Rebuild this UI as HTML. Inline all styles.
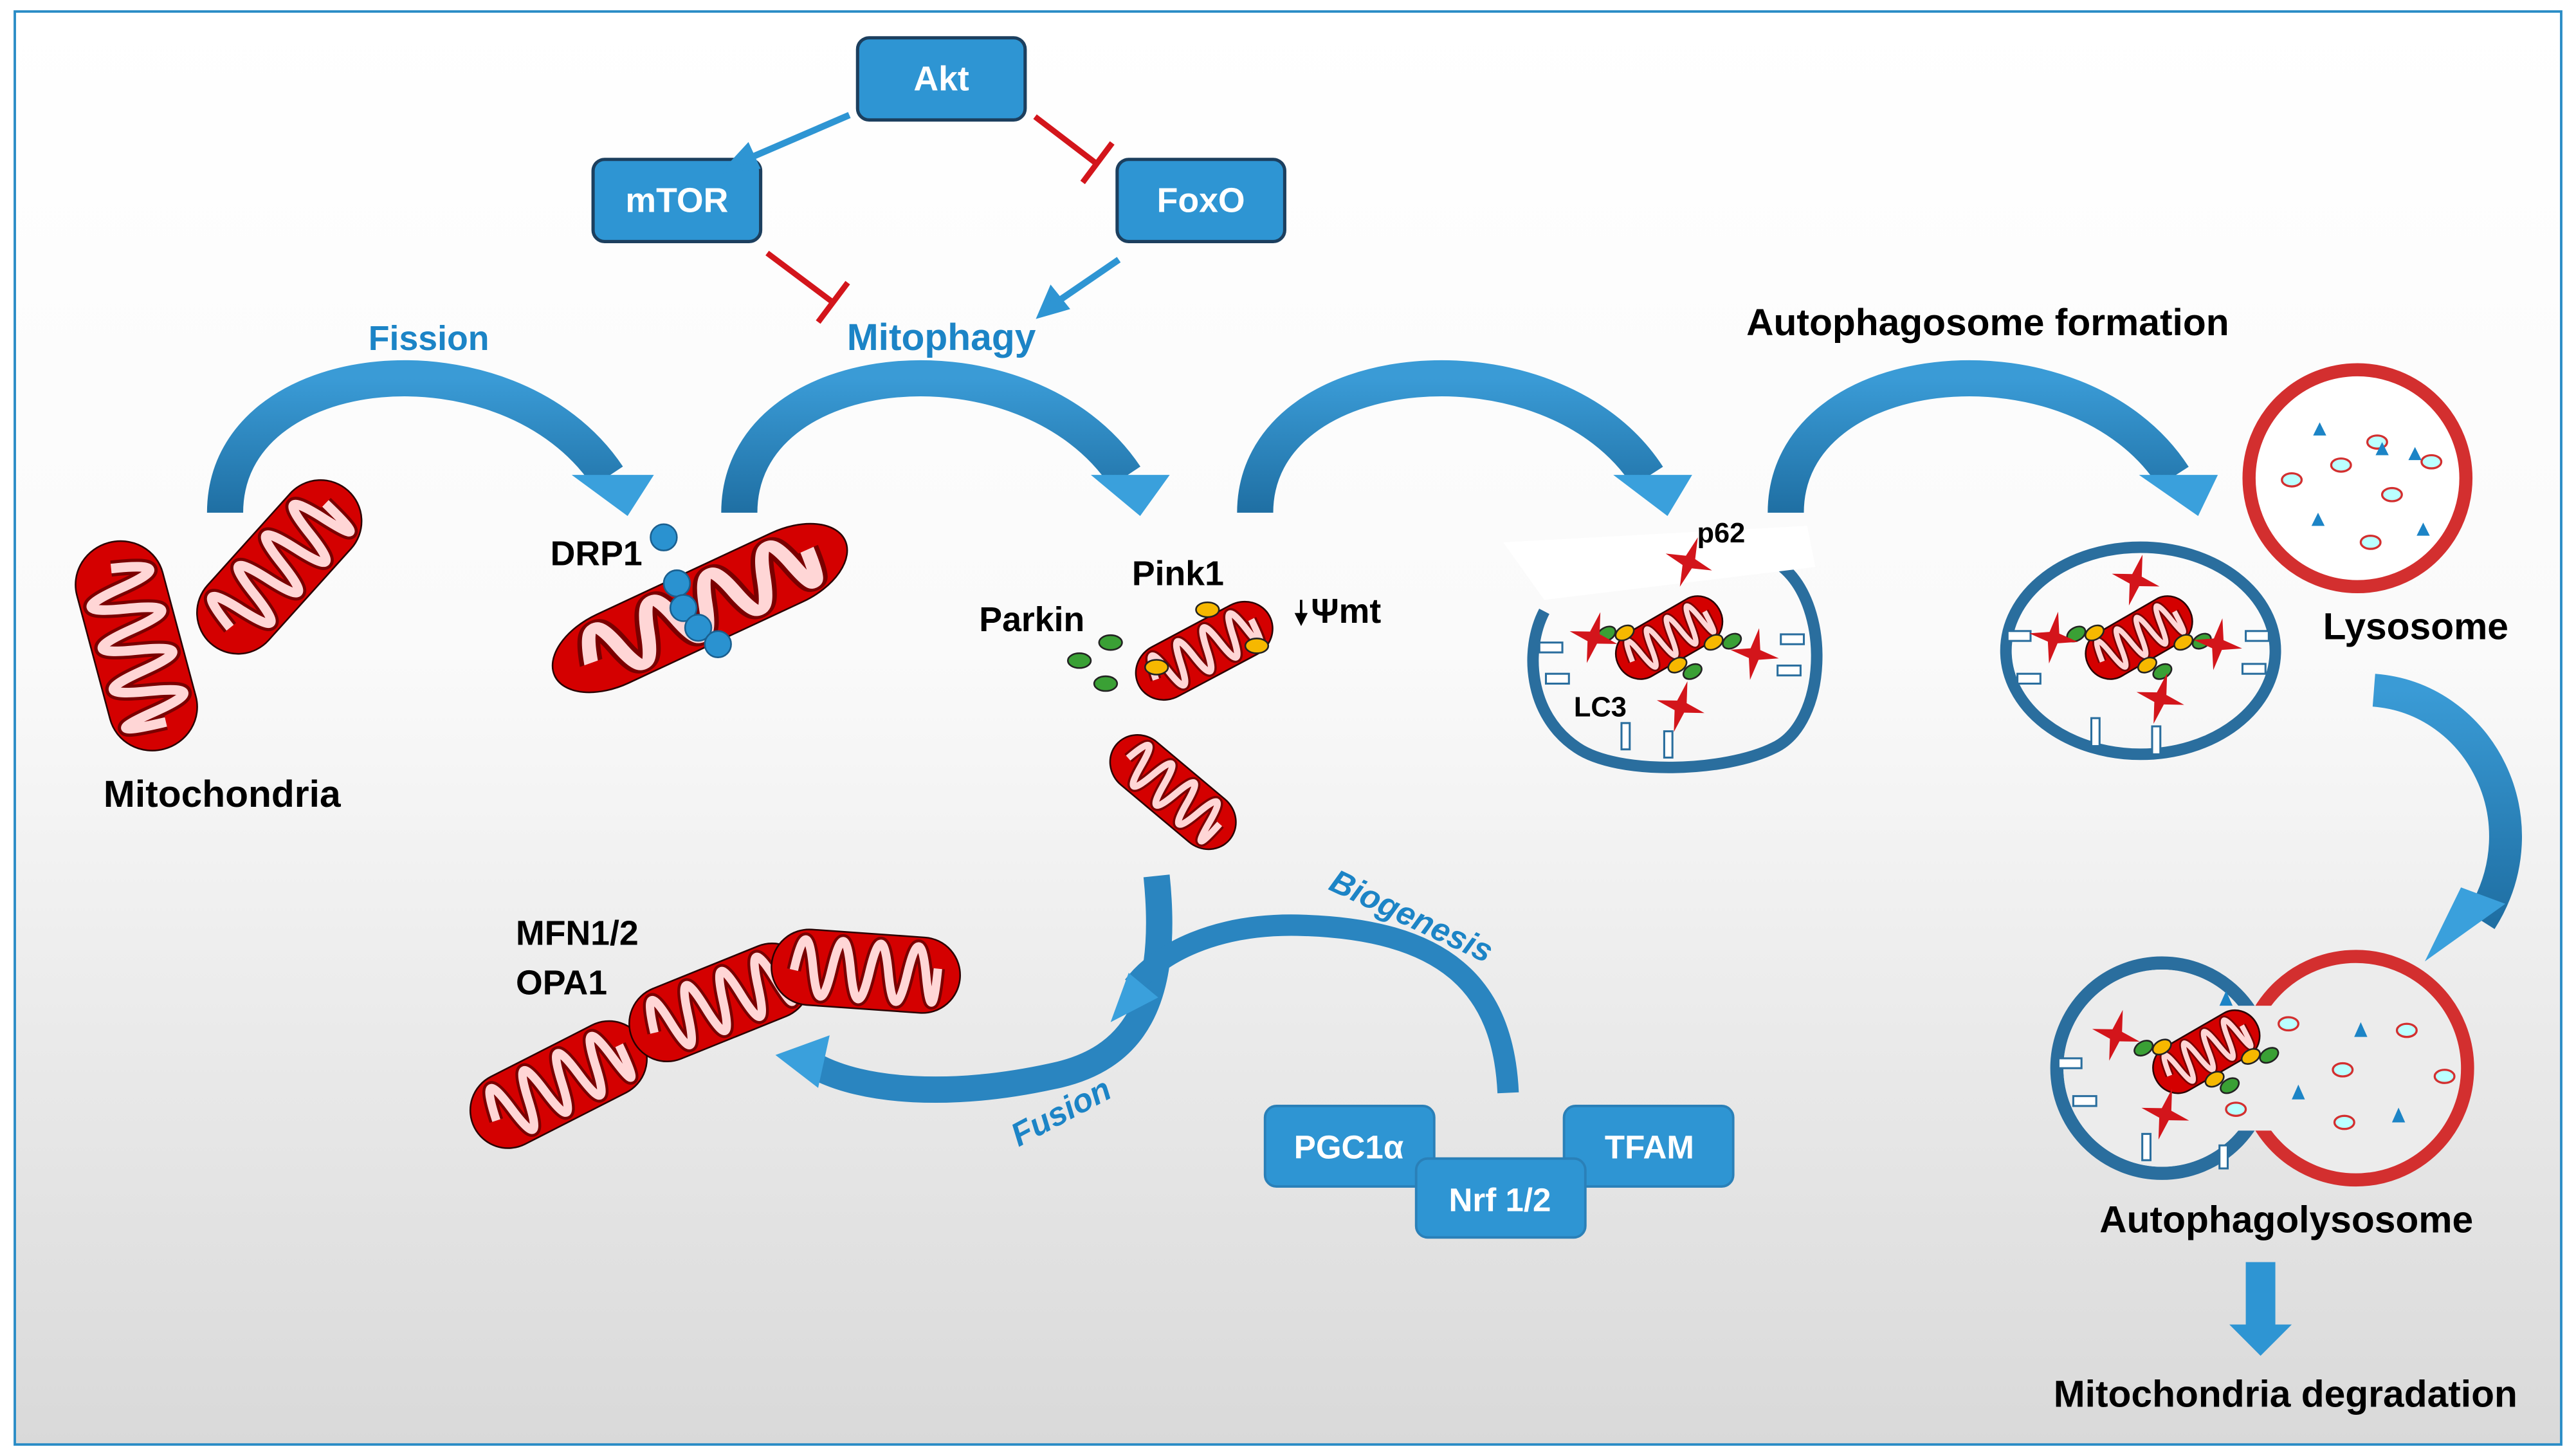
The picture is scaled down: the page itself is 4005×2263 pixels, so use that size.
<!DOCTYPE html>
<html><head><meta charset="utf-8"><style>
html,body{margin:0;padding:0;width:4005px;height:2263px;overflow:hidden;background:#fff}
svg{display:block}
text{font-family:"Liberation Sans",sans-serif;font-weight:bold}
</style></head><body>
<svg width="4005" height="2263" viewBox="0 0 1568 886" xmlns="http://www.w3.org/2000/svg">
<defs>
<linearGradient id="bg" x1="0" y1="0" x2="0" y2="1">
<stop offset="0" stop-color="#ffffff"/><stop offset="0.45" stop-color="#fafafa"/><stop offset="1" stop-color="#d9d9d9"/></linearGradient>
<linearGradient id="arc" x1="0" y1="0" x2="0" y2="1">
<stop offset="0" stop-color="#3a9bd6"/><stop offset="1" stop-color="#1f6fa3"/></linearGradient>
<g id="mito">
<rect x="-50" y="-20" width="100" height="40" rx="20" fill="#d40000" stroke="#2a0000" stroke-width="2.5" vector-effect="non-scaling-stroke"/>
<path d="M-38,2 Q-33,-30 -28,0 T-18,0 T-8,0 T2,0 T12,0 T22,0 T32,0 T38,-4" fill="none" stroke="#7a0000" stroke-width="7.5"/>
<path d="M-38,2 Q-33,-30 -28,0 T-18,0 T-8,0 T2,0 T12,0 T22,0 T32,0 T38,-4" fill="none" stroke="#ffd6d6" stroke-width="4.5"/>
</g>
<polygon id="star" points="0,-16 3,-3 15,0 3,3 0,16 -3,3 -15,0 -3,-3" fill="#d3151b"/>
<g id="ppm">
<use href="#mito" transform="scale(0.7,0.75)"/>
<ellipse cx="-22" cy="-16" rx="6" ry="4" fill="#f6b800" stroke="#222" stroke-width="1"/>
<ellipse cx="-32" cy="-21" rx="6" ry="4" fill="#3aa035" stroke="#222" stroke-width="1"/>
<ellipse cx="22" cy="16" rx="6" ry="4" fill="#f6b800" stroke="#222" stroke-width="1"/>
<ellipse cx="32" cy="21" rx="6" ry="4" fill="#3aa035" stroke="#222" stroke-width="1"/>
<ellipse cx="-4" cy="17" rx="6" ry="4" fill="#f6b800" stroke="#222" stroke-width="1"/>
<ellipse cx="2" cy="25" rx="6" ry="4" fill="#3aa035" stroke="#222" stroke-width="1"/>
</g>
</defs>
<rect x="0" y="0" width="1568" height="886" fill="#fff"/>
<rect x="9" y="7" width="1550" height="872" fill="url(#bg)" stroke="#2a8cc6" stroke-width="1.5"/>

<!-- Top signaling boxes -->
<g stroke="#1c3f5e" stroke-width="2" fill="#2e95d3">
<rect x="522" y="23" width="102" height="50" rx="7"/>
<rect x="361" y="97" width="102" height="50" rx="7"/>
<rect x="680" y="97" width="102" height="50" rx="7"/>
</g>
<g fill="#fff" font-size="21" text-anchor="middle">
<text x="573" y="55">Akt</text><text x="412" y="129">mTOR</text><text x="731" y="129">FoxO</text>
</g>
<g stroke="#2e95d3" stroke-width="4" fill="#2e95d3">
<line x1="517" y1="70" x2="452" y2="98"/>
<polygon points="443,103 455,90 460,101"/>
<line x1="681" y1="158" x2="643" y2="184"/>
<polygon points="634,191 640,177 648,187"/>
</g>
<g stroke="#d3151b" stroke-width="3.5" fill="none">
<line x1="630" y1="71" x2="668" y2="100"/><line x1="659" y1="111" x2="677" y2="87"/>
<line x1="467" y1="154" x2="507" y2="184"/><line x1="498" y1="196" x2="516" y2="172"/>
</g>

<g fill="#1c84c6" text-anchor="middle">
<text x="261" y="213" font-size="21">Fission</text><text x="573" y="213" font-size="23">Mitophagy</text>
</g>
<g fill="#000" font-size="23">
<text x="1063" y="204">Autophagosome formation</text>
<text x="63" y="491">Mitochondria</text>
<text x="335" y="344" font-size="21">DRP1</text>
<text x="689" y="356" font-size="21">Pink1</text>
<text x="596" y="384" font-size="21">Parkin</text>
<text x="798" y="379" font-size="21">Ψmt</text>
<text x="1414" y="389">Lysosome</text>
<text x="314" y="575" font-size="21">MFN1/2</text>
<text x="314" y="605" font-size="21">OPA1</text>
<text x="1278" y="750">Autophagolysosome</text>
<text x="1250" y="856">Mitochondria degradation</text>
</g>
<line x1="792" y1="365" x2="792" y2="375" stroke="#000" stroke-width="1.5"/><polygon points="788,373 796,373 792,381" fill="#000"/>

<!-- big curved arrows -->
<g fill="none" stroke="url(#arc)" stroke-width="22">
<path d="M137,312 C137,215 310,200 370,290"/>
<path d="M450,312 C450,215 625,200 685,290"/>
<path d="M764,312 C764,215 945,200 1003,290"/>
<path d="M1087,312 C1087,215 1265,200 1323,290"/>
</g>
<g fill="#3aa0dc">
<polygon points="348,289 398,289 382,314"/>
<polygon points="664,289 712,289 694,314"/>
<polygon points="982,289 1030,289 1015,314"/>
<polygon points="1302,289 1350,289 1338,314"/>
</g>
<path d="M1445,420 C1510,425 1548,500 1510,560" fill="none" stroke="url(#arc)" stroke-width="20"/>
<polygon points="1476,585 1525,550 1498,540" fill="#3aa0dc"/>
<!-- fusion / biogenesis -->
<path d="M704,533 C712,610 690,645 640,655 C580,668 525,665 495,648" fill="none" stroke="#2a85c0" stroke-width="16"/>
<polygon points="472,642 505,630 498,662" fill="#3aa0dc"/>
<path d="M918,665 C915,600 880,565 790,563 C740,562 705,580 690,600" fill="none" stroke="#2a85c0" stroke-width="13"/>
<polygon points="676,622 687,592 705,607" fill="#3aa0dc"/>
<g fill="#1c84c6" font-size="20" font-style="italic">
<text transform="translate(808,541) rotate(25)">Biogenesis</text>
<text transform="translate(620,698) rotate(-28)">Fusion</text>
</g>
<polygon points="1367,768 1385,768 1385,806 1395,806 1376,825 1357,806 1367,806" fill="#2e95d3"/>

<g fill="#2e95d3" stroke="#2a80b8" stroke-width="1.5">
<rect x="770" y="673" width="103" height="49" rx="7"/>
<rect x="952" y="673" width="103" height="49" rx="7"/>
<rect x="862" y="705" width="103" height="48" rx="7"/>
</g>
<g fill="#fff" font-size="20" text-anchor="middle">
<text x="821" y="705">PGC1α</text><text x="1004" y="705">TFAM</text><text x="913" y="737">Nrf 1/2</text>
</g>

<!-- mitochondria -->
<use href="#mito" transform="translate(83,393) rotate(75) scale(1.3,1.35)"/>
<use href="#mito" transform="translate(170,345) rotate(-48) scale(1.25,1.25)"/>
<use href="#mito" transform="translate(426,370) rotate(-25) scale(1.95,1.15)"/>
<g fill="#2a92d0" stroke="#1a5f8f" stroke-width="1"><circle cx="404" cy="327" r="8"/><circle cx="412" cy="355" r="8"/><circle cx="416" cy="370" r="8"/><circle cx="425" cy="382" r="8"/><circle cx="437" cy="392" r="8"/></g>
<use href="#mito" transform="translate(733,396) rotate(-28) scale(0.9,0.85)"/>
<g fill="#f6b800" stroke="#222" stroke-width="1"><ellipse cx="735" cy="371" rx="7" ry="4.5"/><ellipse cx="765" cy="393" rx="7" ry="4.5"/><ellipse cx="704" cy="406" rx="7" ry="4.5"/></g>
<g fill="#3aa035" stroke="#222" stroke-width="1"><ellipse cx="676" cy="391" rx="7" ry="4.5"/><ellipse cx="657" cy="402" rx="7" ry="4.5"/><ellipse cx="673" cy="416" rx="7" ry="4.5"/></g>
<use href="#mito" transform="translate(714,482) rotate(40) scale(0.9,0.85)"/>
<use href="#mito" transform="translate(340,660) rotate(-27) scale(1.15,1.15)"/>
<use href="#mito" transform="translate(438,610) rotate(-22) scale(1.15,1.15)"/>
<use href="#mito" transform="translate(527,591) rotate(4) scale(1.15,1.15)"/>

<!-- autophagosome 1 -->
<path d="M1085,345 C1115,370 1112,440 1080,455 C1050,470 985,472 960,455 C930,435 928,395 940,372" fill="none" stroke="#2a6e9e" stroke-width="7"/>
<polygon points="915,330 1100,320 1105,345 940,365" fill="#fff"/>
<text x="1033" y="330" font-size="17" fill="#000">p62</text>
<text x="958" y="436" font-size="17" fill="#000">LC3</text>
<g fill="#fff" stroke="#2a6e9e" stroke-width="1.2">
<rect x="937" y="391" width="14" height="6"/><rect x="941" y="410" width="14" height="6"/>
<rect x="1084" y="386" width="14" height="6"/><rect x="1082" y="405" width="14" height="6"/>
<rect x="987" y="440" width="5" height="16"/><rect x="1013" y="445" width="5" height="16"/>
</g>
<use href="#ppm" transform="translate(1016,388) rotate(-30)"/>
<use href="#star" transform="translate(1028,342) rotate(20)"/>
<use href="#star" transform="translate(970,388) rotate(15)"/>
<use href="#star" transform="translate(1068,398) rotate(10)"/>
<use href="#star" transform="translate(1023,430) rotate(15)"/>
<!-- autophagosome 2 -->
<ellipse cx="1303" cy="396" rx="82" ry="63" fill="none" stroke="#2a6e9e" stroke-width="7"/>
<g fill="#fff" stroke="#2a6e9e" stroke-width="1.2">
<rect x="1222" y="384" width="14" height="6"/><rect x="1228" y="410" width="14" height="6"/>
<rect x="1367" y="384" width="14" height="6"/><rect x="1365" y="404" width="14" height="6"/>
<rect x="1273" y="437" width="5" height="17"/><rect x="1310" y="442" width="5" height="17"/>
</g>
<use href="#ppm" transform="translate(1302,388) rotate(-30)"/>
<use href="#star" transform="translate(1300,353) rotate(15)"/>
<use href="#star" transform="translate(1250,388) rotate(10)"/>
<use href="#star" transform="translate(1350,392) rotate(10)"/>
<use href="#star" transform="translate(1315,425) rotate(15)"/>
<!-- lysosome -->
<circle cx="1435" cy="291" r="66" fill="#fff" stroke="#d32f2f" stroke-width="8"/>
<g fill="#bff" stroke="#d32f2f" stroke-width="1.3">
<ellipse cx="1447" cy="269" rx="6" ry="4"/><ellipse cx="1425" cy="283" rx="6" ry="4"/><ellipse cx="1395" cy="292" rx="6" ry="4"/><ellipse cx="1456" cy="301" rx="6" ry="4"/><ellipse cx="1480" cy="281" rx="6" ry="4"/><ellipse cx="1443" cy="330" rx="6" ry="4"/>
</g>
<g fill="#1c84c6"><polygon points="1412,257 1416,265 1408,265"/><polygon points="1470,272 1474,280 1466,280"/><polygon points="1450,269 1454,277 1446,277"/><polygon points="1411,312 1415,320 1407,320"/><polygon points="1475,318 1479,326 1471,326"/></g>

<!-- autophagolysosome -->
<circle cx="1316" cy="650" r="64" fill="#ececec" stroke="#2a6e9e" stroke-width="8"/>
<circle cx="1434" cy="650" r="68" fill="#ececec" stroke="#d32f2f" stroke-width="8"/>
<circle cx="1316" cy="650" r="60" fill="#ececec"/>
<rect x="1360" y="612" width="40" height="76" fill="#ececec"/>
<g fill="#fff" stroke="#2a6e9e" stroke-width="1.2">
<rect x="1253" y="644" width="14" height="6"/><rect x="1262" y="667" width="14" height="6"/>
<rect x="1304" y="690" width="5" height="16"/><rect x="1351" y="697" width="5" height="14"/>
</g>
<use href="#ppm" transform="translate(1343,640) rotate(-30)"/>
<use href="#star" transform="translate(1288,630) rotate(15)"/>
<use href="#star" transform="translate(1318,678) rotate(15)"/>
<g fill="#bff" stroke="#d32f2f" stroke-width="1.3">
<ellipse cx="1393" cy="623" rx="6" ry="4"/><ellipse cx="1465" cy="627" rx="6" ry="4"/><ellipse cx="1426" cy="651" rx="6" ry="4"/><ellipse cx="1488" cy="655" rx="6" ry="4"/><ellipse cx="1361" cy="675" rx="6" ry="4"/><ellipse cx="1427" cy="683" rx="6" ry="4"/>
</g>
<g fill="#1c84c6"><polygon points="1355,603 1359,612 1351,612"/><polygon points="1437,622 1441,631 1433,631"/><polygon points="1399,660 1403,669 1395,669"/><polygon points="1460,674 1464,683 1456,683"/></g>
</svg>
</body></html>
